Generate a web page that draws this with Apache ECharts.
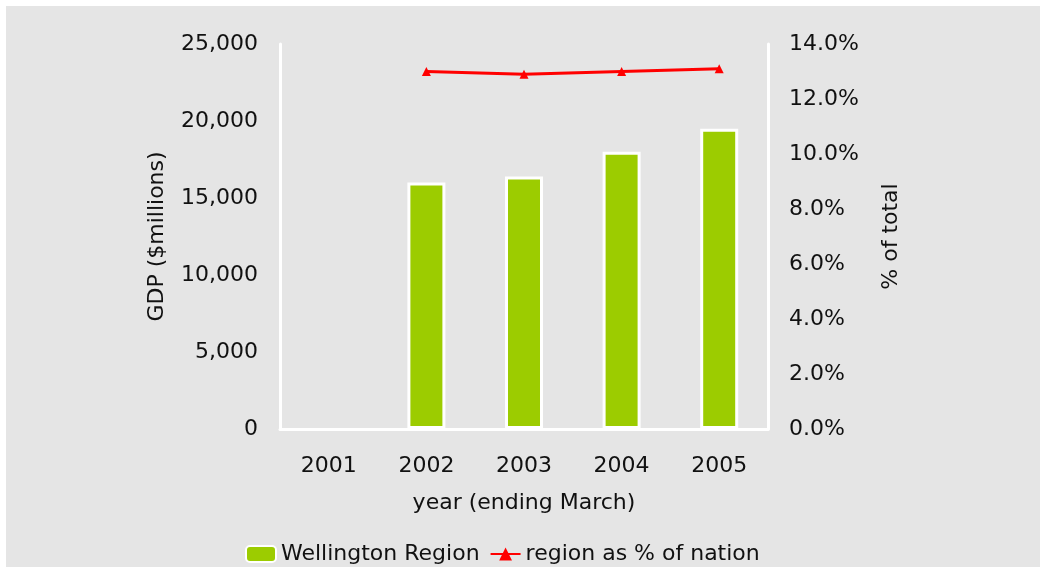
<!DOCTYPE html>
<html>
<head>
<meta charset="utf-8">
<script src="https://cdn.jsdelivr.net/npm/echarts@6/dist/echarts.min.js"></script>
<style>
  html, body { margin: 0; padding: 0; background: #fff; }
  #chart { position: absolute; left: 6px; top: 6px; width: 1034px; height: 561px; }
</style>
</head>
<body>
<div id="chart"></div>
<script>
// years (ending March)
const years = ['2001', '2002', '2003', '2004', '2005']
// Wellington Region GDP, $ millions (2001 has no bar)
const gdp = [null, 16000, 16400, 18000, 19500]
// region as % of nation
const share = [null, 13.0, 12.9, 13.0, 13.1]

const txt = { fontFamily: 'DejaVu Sans', fontSize: 22, color: '#111' }
const whiteLine = { show: true, lineStyle: { color: '#fff', width: 3 } }

const chart = echarts.init(document.getElementById('chart'))
chart.setOption({
  backgroundColor: '#e5e5e5',
  animation: false,
  textStyle: txt,
  grid: { left: 274, top: 38, width: 488, height: 385 },
  legend: {
    left: 234,
    top: 532,
    itemWidth: 30,
    itemHeight: 16,
    itemGap: 10,
    textStyle: txt,
    data: ['Wellington Region', 'region as % of nation']
  },
  xAxis: {
    type: 'category',
    data: years,
    axisLine: whiteLine,
    axisTick: { show: false },
    axisLabel: { ...txt, margin: 26 },
    name: 'year (ending March)',
    nameLocation: 'middle',
    nameGap: 63,
    nameTextStyle: txt
  },
  yAxis: [
    {
      type: 'value',
      min: 0,
      max: 25000,
      interval: 5000,
      position: 'left',
      axisLine: whiteLine,
      axisTick: { show: false },
      splitLine: { show: false },
      axisLabel: { ...txt, margin: 22, formatter: v => v.toLocaleString('en-US') },
      name: 'GDP ($millions)',
      nameLocation: 'middle',
      nameRotate: 90,
      nameGap: 112,
      nameTextStyle: txt
    },
    {
      type: 'value',
      min: 0,
      max: 14,
      interval: 2,
      position: 'right',
      axisLine: whiteLine,
      axisTick: { show: false },
      splitLine: { show: false },
      axisLabel: { ...txt, margin: 21, formatter: v => v.toFixed(1) + '%' },
      name: '% of total',
      nameLocation: 'middle',
      nameRotate: 90,
      nameGap: 112,
      nameTextStyle: txt
    }
  ],
  series: [
    {
      name: 'Wellington Region',
      type: 'bar',
      data: gdp,
      barWidth: 38,
      itemStyle: { color: '#9ccc00', borderColor: '#fff', borderWidth: 3 }
    },
    {
      name: 'region as % of nation',
      type: 'line',
      yAxisIndex: 1,
      data: share,
      symbol: 'triangle',
      symbolSize: 9,
      lineStyle: { color: '#ff0000', width: 3 },
      itemStyle: { color: '#ff0000' }
    }
  ]
})
</script>
</body>
</html>
